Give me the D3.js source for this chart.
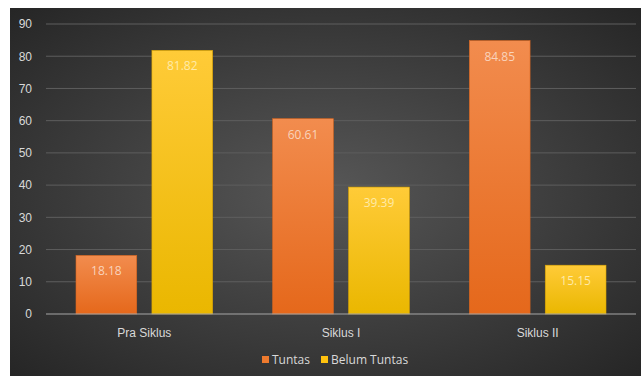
<!DOCTYPE html>
<html>
<head>
<meta charset="utf-8">
<script src="https://cdn.jsdelivr.net/npm/d3@7"></script>
<style>
  body { margin: 0; background: #fff; }
  svg { display: block; font-family: "Open Sans", "Liberation Sans", sans-serif; }
</style>
</head>
<body>
<script>
// data
var categories = ["Pra Siklus", "Siklus I", "Siklus II"];
var seriesNames = ["Tuntas", "Belum Tuntas"];
var tuntas = [18.18, 60.61, 84.85];
var belumTuntas = [81.82, 39.39, 15.15];
var yTicks = [0, 10, 20, 30, 40, 50, 60, 70, 80, 90];

var W = 641, H = 376;
var svg = d3.select("body").append("svg").attr("width", W).attr("height", H);

var defs = svg.append("defs");
var bg = defs.append("radialGradient").attr("id", "bg").attr("cx", "50%").attr("cy", "50%").attr("r", "70%");
bg.append("stop").attr("offset", "0%").attr("stop-color", "#575757");
bg.append("stop").attr("offset", "100%").attr("stop-color", "#262626");

var gO = defs.append("linearGradient").attr("id", "gO").attr("x1", 0).attr("y1", 0).attr("x2", 0).attr("y2", 1);
gO.append("stop").attr("offset", "0%").attr("stop-color", "#F28C4E");
gO.append("stop").attr("offset", "100%").attr("stop-color", "#E5681B");
var gY = defs.append("linearGradient").attr("id", "gY").attr("x1", 0).attr("y1", 0).attr("x2", 0).attr("y2", 1);
gY.append("stop").attr("offset", "0%").attr("stop-color", "#FFCB38");
gY.append("stop").attr("offset", "100%").attr("stop-color", "#EAB700");

// background panel
svg.append("rect").attr("x", 10).attr("y", 8).attr("width", W - 10).attr("height", H - 8)
  .attr("fill", "url(#bg)");

var plotL = 46, plotR = 636, plotT = 24, plotB = 314;

var x = d3.scaleBand().domain(categories).range([plotL, plotR]).paddingInner(0).paddingOuter(0);
var x1 = d3.scaleBand().domain(seriesNames).range([30, x.bandwidth() - 30]).paddingInner(0.2);
var y = d3.scaleLinear().domain([0, 90]).range([plotB, plotT]);

// gridlines
svg.append("g").selectAll("line").data(yTicks.filter(function(d) { return d > 0; }))
  .enter().append("line")
  .attr("x1", plotL).attr("x2", plotR)
  .attr("y1", function(d) { return y(d); }).attr("y2", function(d) { return y(d); })
  .attr("stroke", "#5e5e5e").attr("stroke-width", 1);

// y axis labels
var yAxis = d3.axisLeft(y).tickValues(yTicks).tickSize(0).tickPadding(14);
var ya = svg.append("g").attr("transform", "translate(" + plotL + ",0)").call(yAxis);
ya.select(".domain").remove();
ya.selectAll("text").attr("fill", "#d9d9d9").attr("font-size", "12px");

var colors = { "Tuntas": "url(#gO)", "Belum Tuntas": "url(#gY)" };
var labelColors = { "Tuntas": "#f9d3bb", "Belum Tuntas": "#ffeaa8" };

var rows = [];
categories.forEach(function(c, i) {
  rows.push({ cat: c, s: "Tuntas", v: tuntas[i] });
  rows.push({ cat: c, s: "Belum Tuntas", v: belumTuntas[i] });
});

svg.append("g").selectAll("rect").data(rows).enter().append("rect")
  .attr("x", function(d) { return x(d.cat) + x1(d.s); })
  .attr("width", x1.bandwidth())
  .attr("y", function(d) { return y(d.v); })
  .attr("height", function(d) { return y(0) - y(d.v); })
  .attr("fill", function(d) { return colors[d.s]; })
  .attr("stroke", function(d) { return d.s === "Tuntas" ? "#d8651e" : "#dba500"; })
  .attr("stroke-width", 0.6);

svg.append("g").selectAll("text").data(rows).enter().append("text")
  .attr("x", function(d) { return x(d.cat) + x1(d.s) + x1.bandwidth() / 2; })
  .attr("y", function(d) { return y(d.v) + 20; })
  .attr("text-anchor", "middle")
  .attr("font-size", "12px")
  .attr("fill", function(d) { return labelColors[d.s]; })
  .text(function(d) { return d.v.toFixed(2); });

// x axis line
svg.append("line").attr("x1", plotL).attr("x2", plotR)
  .attr("y1", y(0)).attr("y2", y(0))
  .attr("stroke", "#a6a6a6").attr("stroke-width", 1);

var xAxis = d3.axisBottom(x).tickSize(0).tickPadding(14);
var xa = svg.append("g").attr("transform", "translate(0," + y(0) + ")").call(xAxis);
xa.select(".domain").remove();
xa.selectAll("text").attr("fill", "#d9d9d9").attr("font-size", "12px");

// legend
var legend = svg.append("g");
var lx = [262, 321];
seriesNames.forEach(function(s, i) {
  legend.append("rect").attr("x", lx[i]).attr("y", 356).attr("width", 7).attr("height", 7)
    .attr("fill", i === 0 ? "#EE7A2E" : "#FFC20E");
  legend.append("text").attr("x", lx[i] + 10).attr("y", 364)
    .attr("font-size", "12px").attr("fill", "#d9d9d9").text(s);
});
</script>
</body>
</html>
